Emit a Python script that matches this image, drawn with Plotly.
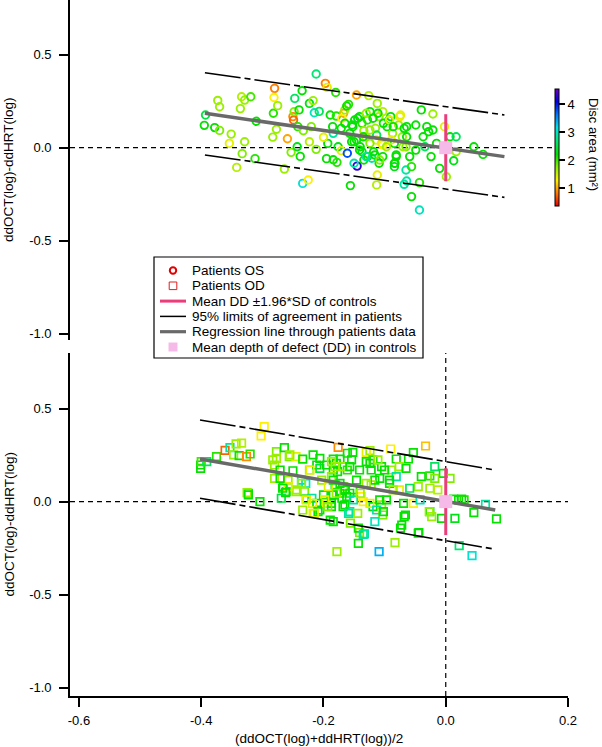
import plotly.graph_objects as go

# ---------------- data ----------------
top_x = [-0.393, -0.395, -0.378, -0.370, -0.373, -0.370, -0.351, -0.354, -0.342, -0.336,
         -0.334, -0.329, -0.319, -0.329, -0.333, -0.312, -0.310, -0.283, -0.280, -0.281,
         -0.282, -0.275, -0.277, -0.264, -0.259, -0.253, -0.250, -0.249, -0.248, -0.247,
         -0.242, -0.240, -0.235, -0.234, -0.225, -0.238, -0.243, -0.233, -0.223, -0.217,
         -0.212, -0.215, -0.207, -0.220, -0.223, -0.212, -0.197, -0.194, -0.180, -0.195,
         -0.184, -0.178, -0.193, -0.200, -0.189, -0.179, -0.185, -0.184, -0.171, -0.167,
         -0.170, -0.165, -0.162, -0.159, -0.176, -0.171, -0.156, -0.161, -0.150, -0.146,
         -0.126, -0.145, -0.150, -0.153, -0.144, -0.137, -0.134, -0.124, -0.128, -0.131,
         -0.140, -0.137, -0.128, -0.134, -0.121, -0.118, -0.112, -0.115, -0.114, -0.109,
         -0.103, -0.112, -0.113, -0.109, -0.103, -0.103, -0.096, -0.093, -0.090, -0.087,
         -0.084, -0.081, -0.084, -0.084, -0.077, -0.074, -0.071, -0.068, -0.065, -0.065,
         -0.068, -0.064, -0.056, -0.059, -0.056, -0.049, -0.049, -0.043, -0.043, -0.040,
         -0.037, -0.034, -0.031, -0.028, -0.024, -0.021, -0.021, -0.015, -0.010, -0.002,
         0.001, 0.007, 0.017, 0.013, 0.017, 0.046, 0.061,
         -0.141, -0.130, -0.119, -0.111, -0.102, -0.092, -0.086, -0.075, -0.064, -0.152,
         -0.146, -0.135, -0.124, -0.113, -0.105, -0.097, -0.089, -0.081, -0.070, -0.064,
         -0.154, -0.141, -0.130, -0.116, -0.108, -0.083, -0.157, -0.165, -0.124, -0.149]
top_y = [0.176, 0.120, 0.108, 0.093, 0.254, 0.220, 0.073, 0.023, -0.106, 0.210,
         0.274, 0.256, 0.274, 0.032, -0.032, -0.059, 0.142, 0.057, 0.319, 0.270,
         0.185, 0.226, 0.099, -0.115, 0.048, -0.025, 0.167, 0.149, 0.194, 0.265,
         0.113, 0.203, 0.306, -0.192, -0.174, -0.047, 0.005, 0.091, 0.238, 0.253,
         0.396, 0.188, 0.195, 0.113, 0.032, -0.009, 0.346, 0.324, 0.297, -0.059,
         -0.065, -0.079, 0.023, 0.056, 0.176, 0.170, 0.113, 0.077, 0.104, 0.185,
         0.158, 0.203, 0.224, 0.233, 0.005, -0.016, -0.204, -0.030, 0.032, 0.283,
         0.280, -0.099, -0.084, 0.122, 0.158, 0.131, 0.091, 0.194, 0.149, 0.059,
         0.005, -0.022, -0.048, -0.066, -0.057, -0.022, 0.238, 0.104, 0.041, 0.167,
         0.194, -0.147, -0.200, -0.084, 0.014, -0.048, 0.113, 0.149, 0.167, 0.077,
         0.023, -0.039, -0.084, -0.102, 0.122, 0.176, 0.059, 0.104, 0.005, -0.120,
         -0.197, -0.179, -0.263, -0.048, -0.102, 0.122, -0.013, -0.188, -0.335, 0.203,
         0.059, 0.005, 0.113, 0.086, -0.048, 0.181, 0.095, 0.023, -0.111, 0.113,
         -0.156, 0.059, 0.059, -0.070, -0.022, 0.005, -0.036,
         0.167, 0.185, 0.158, 0.185, 0.131, 0.149, 0.113, 0.167, 0.113, 0.113,
         0.041, 0.059, 0.024, 0.068, 0.024, 0.005, 0.041, -0.048, 0.005, 0.059,
         0.032, -0.012, -0.048, -0.039, -0.066, -0.084, 0.077, 0.131, 0.095, 0.149]
top_area = [2.5, 2.2, 2.2, 1.8, 1.7, 1.7, 1.7, 1.4, 1.6, 1.7,
            1.6, 1.7, 2.0, 1.7, 1.8, 2.1, 2.2, 1.7, 0.85, 1.3,
            2.1, 1.7, 1.7, 1.7, 1.0, 1.8, 0.9, 0.75, 1.8, 2.6,
            2.1, 2.2, 2.2, 3.1, 1.3, 2.2, 2.3, 1.8, 2.3, 1.7,
            2.7, 3.0, 2.6, 1.8, 1.6, 1.8, 0.85, 1.4, 2.1, 2.2,
            2.2, 2.1, 2.2, 1.4, 2.2, 2.1, 2.2, 2.9, 2.2, 1.0,
            1.3, 1.7, 2.2, 2.1, 2.3, 1.4, 2.2, 3.8, 2.2, 1.0,
            1.6, 4.3, 2.9, 2.2, 2.3, 2.1, 1.7, 2.2, 2.1, 1.7,
            2.2, 2.3, 2.2, 2.2, 2.9, 2.2, 1.7, 1.7, 1.4, 1.7,
            1.6, 1.4, 1.6, 2.2, 1.3, 2.2, 2.2, 2.2, 2.2, 1.7,
            2.2, 2.2, 2.2, 2.3, 1.7, 1.4, 1.7, 2.2, 1.8, 2.9,
            2.9, 2.9, 2.2, 2.2, 2.1, 2.2, 2.2, 2.1, 3.0, 2.2,
            2.2, 2.6, 2.2, 2.2, 2.2, 1.7, 2.2, 2.2, 2.2, 1.4,
            1.7, 2.2, 2.6, 2.3, 1.7, 2.2, 2.2,
            2.2, 1.7, 2.2, 2.2, 2.2, 1.4, 2.2, 1.4, 2.2, 2.2,
            2.2, 2.2, 1.8, 2.6, 1.4, 1.7, 1.4, 2.2, 1.7, 2.2,
            2.2, 2.2, 2.9, 2.2, 1.8, 2.2, 2.2, 2.2, 1.7, 2.2]

bot_x = [-0.401, -0.401, -0.400, -0.391, -0.375, -0.361, -0.353, -0.347, -0.343, -0.334,
         -0.338, -0.326, -0.320, -0.297, -0.302, -0.323, -0.304, -0.277, -0.264, -0.256,
         -0.283, -0.280, -0.271, -0.280, -0.266, -0.261, -0.269, -0.245, -0.234, -0.250,
         -0.245, -0.258, -0.236, -0.229, -0.231, -0.228, -0.234, -0.217, -0.219, -0.223,
         -0.217, -0.211, -0.206, -0.206, -0.200, -0.195, -0.189, -0.186, -0.184, -0.178,
         -0.177, -0.173, -0.170, -0.167, -0.161, -0.161,
         -0.176, -0.152, -0.124, -0.130, -0.090, -0.053, -0.033, -0.154, -0.130, -0.119,
         -0.081, -0.061, -0.018, -0.004, 0.007, -0.179, -0.168, -0.141, -0.122, -0.105,
         -0.089, -0.076, -0.065, -0.040, -0.026, -0.018, -0.045, -0.026, -0.013, -0.059,
         -0.081, -0.108, -0.092, -0.076, -0.122, -0.138, -0.135, -0.157, -0.173, -0.152,
         -0.165, -0.157, -0.144, -0.119, -0.105, -0.103, -0.116, -0.097, -0.069, -0.066,
         -0.072, -0.053, -0.042, -0.026, -0.023, -0.007, 0.015, 0.021, 0.030, 0.046,
         0.065, 0.083, -0.044, -0.141, -0.133, -0.143, -0.083, -0.109, 0.022, 0.043,
         -0.184, -0.187, -0.181, -0.184, -0.187, -0.184,
         -0.277, -0.255, -0.206, -0.195, -0.187, -0.181, -0.222, -0.236, -0.244, -0.258,
         -0.271, -0.203, -0.192, -0.184, -0.173, -0.179, -0.165, -0.162, -0.151, -0.140,
         -0.146, -0.157, -0.124, -0.111, -0.100, -0.092, -0.086, -0.116, -0.130, -0.124,
         -0.108, -0.113, -0.102, -0.187, -0.198, -0.211,
         -0.325, -0.323, -0.267, -0.262, -0.228, -0.218, -0.209, -0.215, -0.193, -0.168,
         -0.159, -0.156, -0.143, -0.135, -0.074, -0.068, -0.045, -0.027, 0.013, 0.026]
bot_y = [0.197, 0.179, 0.215, 0.215, 0.242, 0.275, 0.290, 0.251, 0.310, 0.314,
         0.247, 0.242, 0.256, 0.403, 0.353, 0.045, 0.000, 0.269, 0.290, 0.242,
         0.224, 0.197, 0.170, 0.125, 0.081, 0.054, 0.018, 0.242, 0.228, 0.166,
         0.054, 0.116, 0.116, 0.098, 0.054, 0.013, -0.045, -0.063, 0.018, 0.170,
         0.251, 0.197, 0.179, -0.045, 0.036, -0.009, -0.099, 0.036, 0.228, -0.269,
         0.161, 0.228, 0.018, 0.081, 0.260, 0.170,
         0.292, 0.265, 0.274, 0.265, 0.283, 0.263, 0.299, 0.224, 0.215, 0.224,
         0.229, 0.229, 0.188, 0.152, 0.125, 0.206, 0.188, 0.170, 0.170, 0.188,
         0.170, 0.188, 0.179, 0.134, 0.138, 0.125, 0.081, 0.072, 0.063, 0.072,
         0.134, 0.125, 0.098, 0.063, 0.090, 0.027, 0.000, 0.045, 0.045, 0.063,
         -0.018, -0.054, -0.063, -0.027, -0.018, -0.072, -0.108, 0.009, -0.009, -0.072,
         -0.126, -0.009, 0.009, -0.054, -0.081, -0.090, -0.090, 0.009, 0.009, -0.059,
         -0.015, -0.093, -0.166, -0.166, -0.173, -0.224, -0.220, -0.269, -0.237, -0.290,
         0.170, 0.134, 0.090, 0.036, -0.009, -0.108,
         0.233, 0.251, 0.233, 0.197, 0.215, 0.188, 0.170, 0.098, 0.063, 0.081,
         0.125, 0.116, 0.081, 0.116, 0.098, 0.045, 0.063, 0.027, 0.009, 0.045,
         0.116, 0.188, 0.206, 0.224, 0.170, 0.116, 0.063, 0.116, 0.098, -0.009,
         0.009, -0.045, -0.054, -0.027, 0.009, -0.009,
         0.048, 0.036, 0.072, 0.048, 0.009, -0.009, -0.054, -0.063, -0.027, -0.027,
         -0.063, -0.116, -0.143, -0.176, -0.143, -0.081, -0.170, -0.054, 0.013, 0.013]
bot_area = [2.2, 2.2, 2.0, 2.6, 2.1, 0.75, 2.9, 1.7, 1.7, 1.6,
            2.2, 0.9, 2.1, 1.3, 1.3, 2.2, 2.2, 1.8, 2.2, 1.8,
            1.7, 1.7, 2.2, 1.7, 2.2, 2.1, 2.5, 1.4, 2.2, 2.2,
            1.7, 1.7, 2.9, 3.0, 1.8, 2.2, 1.7, 1.4, 2.9, 1.7,
            2.2, 2.2, 2.5, 2.2, 2.2, 1.4, 2.2, 2.3, 2.2, 1.7,
            2.2, 2.2, 2.2, 1.8, 2.2, 2.1,
            0.9, 2.2, 1.7, 1.4, 1.3, 2.2, 1.1, 2.2, 2.2, 2.1,
            2.2, 2.2, 2.6, 2.2, 1.8, 2.2, 1.7, 2.2, 2.2, 2.2,
            1.7, 1.7, 2.2, 2.2, 2.1, 1.8, 1.7, 1.7, 1.6, 2.6,
            2.9, 2.2, 2.2, 1.4, 1.7, 1.3, 1.3, 2.2, 2.2, 2.2,
            2.2, 2.9, 1.7, 2.2, 1.7, 1.8, 3.0, 2.2, 2.2, 2.2,
            2.2, 1.3, 3.0, 2.2, 1.7, 2.2, 2.3, 2.2, 2.1, 2.2,
            2.9, 2.2, 2.2, 1.8, 2.9, 2.2, 1.7, 3.4, 2.7, 3.1,
            2.2, 1.7, 2.2, 2.2, 2.2, 2.2,
            1.7, 1.7, 2.2, 2.2, 1.7, 1.7, 1.4, 1.7, 1.7, 1.4,
            2.2, 1.7, 1.4, 2.2, 2.2, 1.7, 2.2, 2.2, 2.9, 1.7,
            2.2, 2.2, 2.2, 1.7, 2.2, 2.2, 1.7, 2.2, 1.7, 1.4,
            2.2, 2.9, 2.2, 2.2, 1.4, 2.2,
            1.7, 2.2, 2.2, 2.2, 1.4, 1.4, 2.2, 1.4, 1.8, 2.2,
            2.9, 1.8, 2.2, 2.9, 2.2, 2.2, 2.2, 1.7, 2.2, 2.2]

# Lines: limits of agreement and regression (endpoints in data units)
top_line_x = [-0.394, 0.096]
top_upper = [0.403, 0.176]
top_reg = [0.185, -0.048]
top_lower = [-0.039, -0.267]
bot_line_x = [-0.402, 0.081]
bot_upper = [0.439, 0.170]
bot_reg = [0.229, -0.045]
bot_lower = [0.018, -0.256]

# Controls: mean depth of defect and +-1.96 SD
ctrl_mean_x = 0.0
ctrl_mean_y = 0.0
ctrl_sd_bar = 0.18

x_ticks = [-0.6, -0.4, -0.2, 0.0, 0.2]
x_ticktext = ["-0.6", "-0.4", "-0.2", "0.0", "0.2"]
y_ticks = [-1.0, -0.5, 0.0, 0.5]
y_ticktext = ["-1.0", "-0.5", "0.0", "0.5"]
cbar_ticks = [1, 2, 3, 4]

legend_labels = ["Patients OS", "Patients OD", "Mean DD \u00b11.96*SD of controls",
                 "95% limits of agreement in patients", "Regression line through patients data",
                 "Mean depth of defect (DD) in controls"]

# ---------------- styling ----------------
W, H = 602, 747
ML, MR, MT, MB = 70, 34, 0, 51
PW, PH = W - ML - MR, H - MT - MB
FONT = "Liberation Sans, Arial, sans-serif"
FS_TEXT = 13.5
FS_TICK = 13
PINK_LINE = "rgb(234,62,122)"
PINK_SQ = "rgb(246,186,232)"
GRAY = "rgb(105,105,105)"
LOA_DASH = "36px,4px,6px,4px"
X_RANGE = [-0.6147, 0.2]

colorscale = [[0.0, "rgb(230,0,0)"], [0.11, "rgb(255,120,0)"], [0.22, "rgb(255,240,0)"],
              [0.33, "rgb(140,240,0)"], [0.44, "rgb(0,225,0)"], [0.56, "rgb(0,230,120)"],
              [0.67, "rgb(0,225,230)"], [0.78, "rgb(0,120,255)"], [0.89, "rgb(0,0,230)"],
              [1.0, "rgb(110,0,190)"]]


def px(x):
    return (x - ML) / PW


def py(y):
    return 1 - (y - MT) / PH


fig = go.Figure()

# zero reference lines
fig.add_trace(go.Scatter(x=[X_RANGE[0], 0.18], y=[0, 0], mode="lines", xaxis="x2", yaxis="y2",
                         line=dict(color="black", width=1.2, dash="5px,4px"), showlegend=False, hoverinfo="skip"))
fig.add_trace(go.Scatter(x=[X_RANGE[0], X_RANGE[1]], y=[0, 0], mode="lines", xaxis="x", yaxis="y",
                         line=dict(color="black", width=1.2, dash="5px,4px"), showlegend=False, hoverinfo="skip"))
fig.add_trace(go.Scatter(x=[0, 0], y=[-1.045, 0.8], mode="lines", xaxis="x", yaxis="y",
                         line=dict(color="black", width=1.2, dash="5px,4px"), showlegend=False, hoverinfo="skip"))

# data points
fig.add_trace(go.Scatter(x=top_x, y=top_y, mode="markers", xaxis="x2", yaxis="y2", showlegend=False,
                         marker=dict(symbol="circle-open", size=7.5, color=top_area, coloraxis="coloraxis",
                                     line=dict(width=1.9))))
fig.add_trace(go.Scatter(x=bot_x, y=bot_y, mode="markers", xaxis="x", yaxis="y", showlegend=False,
                         marker=dict(symbol="square-open", size=7.5, color=bot_area, coloraxis="coloraxis",
                                     line=dict(width=1.7))))

# limits of agreement and regression lines
for lx, up, reg, lo, xa, ya in [(top_line_x, top_upper, top_reg, top_lower, "x2", "y2"),
                                (bot_line_x, bot_upper, bot_reg, bot_lower, "x", "y")]:
    for ly in (up, lo):
        fig.add_trace(go.Scatter(x=lx, y=ly, mode="lines", xaxis=xa, yaxis=ya, showlegend=False,
                                 line=dict(color="black", width=1.6, dash=LOA_DASH), hoverinfo="skip"))
    fig.add_trace(go.Scatter(x=lx, y=reg, mode="lines", xaxis=xa, yaxis=ya, showlegend=False,
                             line=dict(color=GRAY, width=3.5), hoverinfo="skip"))
    fig.add_trace(go.Scatter(x=[ctrl_mean_x, ctrl_mean_x], y=[ctrl_mean_y - ctrl_sd_bar, ctrl_mean_y + ctrl_sd_bar],
                             mode="lines", xaxis=xa, yaxis=ya, showlegend=False,
                             line=dict(color=PINK_LINE, width=3), hoverinfo="skip"))
    fig.add_trace(go.Scatter(x=[ctrl_mean_x], y=[ctrl_mean_y], mode="markers", xaxis=xa, yaxis=ya, showlegend=False,
                             marker=dict(symbol="square", size=13, color=PINK_SQ), hoverinfo="skip"))

# ---------------- custom legend ----------------
shapes = []
annotations = []
LX0, LX1, LY0, LY1 = 154, 423, 257, 358
shapes.append(dict(type="rect", xref="paper", yref="paper", x0=px(LX0), x1=px(LX1), y0=py(LY1), y1=py(LY0),
                   line=dict(color="black", width=1.2), fillcolor="white", layer="above"))
sym_x = 173
row0, dy = 270.5, 15.3
for i, lab in enumerate(legend_labels):
    yc = row0 + i * dy
    annotations.append(dict(text=lab, x=px(190), y=py(yc), xref="paper", yref="paper", xanchor="left",
                            yanchor="middle", showarrow=False, font=dict(family=FONT, size=FS_TEXT, color="black")))
    if i == 0:
        shapes.append(dict(type="circle", xref="paper", yref="paper", x0=px(sym_x - 3.2), x1=px(sym_x + 3.2),
                           y0=py(yc + 3.2), y1=py(yc - 3.2), line=dict(color="rgb(225,0,0)", width=2), layer="above"))
    elif i == 1:
        shapes.append(dict(type="rect", xref="paper", yref="paper", x0=px(sym_x - 3.8), x1=px(sym_x + 3.8),
                           y0=py(yc + 3.8), y1=py(yc - 3.8), line=dict(color="rgb(225,30,30)", width=1), layer="above"))
    elif i in (2, 3, 4):
        col, wd = [(PINK_LINE, 3), ("black", 1.5), (GRAY, 3.2)][i - 2]
        shapes.append(dict(type="line", xref="paper", yref="paper", x0=px(160), x1=px(186), y0=py(yc), y1=py(yc),
                           line=dict(color=col, width=wd), layer="above"))
    else:
        shapes.append(dict(type="rect", xref="paper", yref="paper", x0=px(sym_x - 4.5), x1=px(sym_x + 4.5),
                           y0=py(yc + 4.5), y1=py(yc - 4.5), line=dict(width=0), fillcolor=PINK_SQ, layer="above"))

# axis titles
title_font = dict(family=FONT, size=FS_TEXT, color="black")
annotations.append(dict(text="ddOCT(log)-ddHRT(log)", x=px(9), y=py(170), xref="paper", yref="paper",
                        xanchor="center", yanchor="middle", textangle=-90, showarrow=False, font=title_font))
annotations.append(dict(text="ddOCT(log)-ddHRT(log)", x=px(9), y=py(524.5), xref="paper", yref="paper",
                        xanchor="center", yanchor="middle", textangle=-90, showarrow=False, font=title_font))
annotations.append(dict(text="(ddOCT(log)+ddHRT(log))/2", x=px(319), y=py(739), xref="paper", yref="paper",
                        xanchor="center", yanchor="middle", showarrow=False, font=title_font))
annotations.append(dict(text="Disc area (mm\u00b2)", x=px(593), y=py(144), xref="paper", yref="paper",
                        xanchor="center", yanchor="middle", textangle=90, showarrow=False,
                        font=dict(family=FONT, size=13, color="black")))

axis_common = dict(showgrid=False, zeroline=False, showline=True, linecolor="black", linewidth=1.6,
                   ticks="outside", ticklen=9, tickwidth=1.5, tickcolor="black",
                   tickfont=dict(family=FONT, size=FS_TICK, color="black"))

fig.update_layout(
    width=W, height=H, margin=dict(l=ML, r=MR, t=MT, b=MB),
    paper_bgcolor="white", plot_bgcolor="white",
    font=dict(family=FONT, size=FS_TICK, color="black"),
    showlegend=False,
    xaxis=dict(domain=[0, 1], range=X_RANGE, anchor="y", tickvals=x_ticks, ticktext=x_ticktext,
               ticklabelstandoff=3, **axis_common),
    yaxis=dict(domain=[0, (PH - 353) / PH], range=[-1.045, 0.799], anchor="x",
               tickvals=y_ticks, ticktext=y_ticktext, ticklabelstandoff=5, **axis_common),
    xaxis2=dict(domain=[0, 1], range=X_RANGE, anchor="y2", visible=False, matches="x"),
    yaxis2=dict(domain=[1 - 340 / PH, 1], range=[-1.034, 0.794], anchor="x2",
                tickvals=y_ticks, ticktext=y_ticktext, ticklabelstandoff=5, **axis_common),
    coloraxis=dict(colorscale=colorscale, cmin=0.37, cmax=4.57,
                   colorbar=dict(x=px(555), xanchor="left", xref="paper", xpad=0,
                                 y=py(147), yanchor="middle", yref="paper", ypad=0,
                                 len=117 / PH, lenmode="fraction", thickness=4, thicknessmode="pixels",
                                 outlinewidth=1, outlinecolor="black",
                                 ticks="outside", ticklen=6, tickwidth=1.5, tickcolor="black",
                                 tickvals=cbar_ticks, tickfont=dict(family=FONT, size=FS_TICK, color="black"))),
    shapes=shapes, annotations=annotations,
)

fig.write_html("out.html", config={"displayModeBar": False},
               post_script="document.body.style.margin='0px';document.body.style.padding='0px';"
                           "document.body.style.overflow='hidden';")
